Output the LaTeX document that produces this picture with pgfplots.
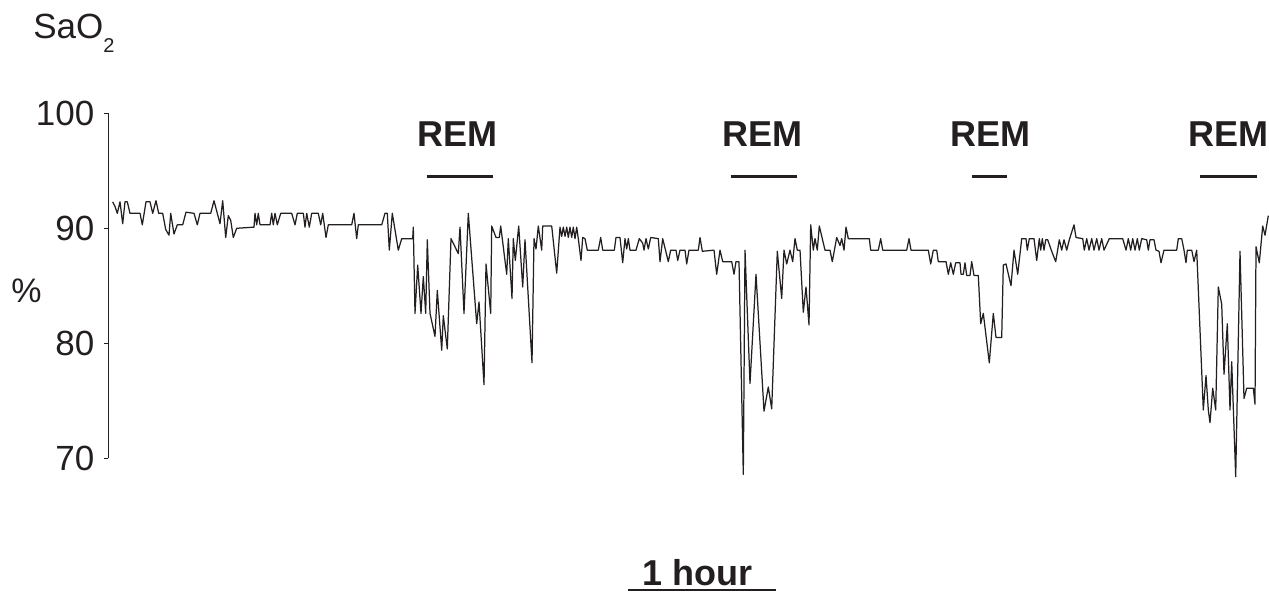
\documentclass[border=0pt]{standalone}
\usepackage{fontspec}
\setmainfont{Liberation Sans}
\usepackage{pgfplots}
\usepackage{pgfplotstable}
\pgfplotsset{compat=1.18}
\definecolor{ink}{HTML}{231F20}
\pgfplotstableread{
x y
112.7 92.3
115 91.9
117.3 91.3
120 92.3
122.7 90.4
125 92.3
127.3 92.3
130 91.3
140 91.3
142.3 90.3
146 92.3
150 92.3
152.7 91.3
156 92.4
158.7 91.3
162.7 91.3
165.7 89.9
169 89.4
170.7 91.3
174 89.5
177.3 90.3
182.7 90.3
186 91.4
194 91.3
197.3 90.3
200 91.3
210.7 91.3
214 92.4
217.3 91.3
220 90.4
222.7 92.4
225.7 89.2
228.3 91.1
230.7 90.7
233.3 89.2
236.7 90.0
254 90.1
255 91.3
256.7 90.3
258.3 91.3
260 90.3
270 90.3
271.7 91.3
273.3 90.3
275 91.3
277.3 90.3
280.7 91.3
291.7 91.3
295 90.3
297.3 91.3
303.3 91.3
305 90.1
306.7 91.3
309.3 90.1
311.7 91.3
318.3 91.3
320.7 90.3
322.7 91.3
326 89.2
328.3 90.3
351.7 90.3
354 91.3
356.7 89.1
358.3 90.3
381.7 90.3
385 91.3
387.3 91.3
389.3 88.1
392.3 91.3
398.3 88.1
401.7 89.1
412.7 89.1
413.3 90.1
415 82.6
417.7 86.8
421 82.6
423.3 85.8
425.7 82.6
427.3 89.0
430 82.6
435 80.6
437.3 84.6
441.7 79.4
443.3 82.4
447.3 79.5
451 89.1
458.3 87.8
460 90.1
464 82.6
468.3 91.3
476.7 81.7
479 83.6
484 76.4
486 86.9
490.7 82.6
491.7 90.2
496 89.2
499.3 89.2
500.7 90.2
506.7 86.0
508.3 89.1
512 83.9
513.3 89.1
515.3 87.2
518.7 90.2
522.7 84.9
525 89.0
532 78.3
534 89.1
536 88.2
538.3 90.2
541.7 88.1
542.7 90.2
551.7 90.2
556.7 86.1
560 90.1
561.7 89.3
563.3 90.1
565 89.3
566.7 90.1
568.3 89.2
570 90.1
571.7 89.2
573.3 90.1
575 89.1
576.7 90.1
578.3 89.1
581 87.2
582.7 89.2
585 89.1
587.3 88.1
598.3 88.1
600.7 89.2
602.7 88.1
614.3 88.1
616 89.2
620 89.2
622.7 87.0
625 89.1
626.7 88.2
628.3 89.1
630 88.1
636 88.1
639.3 89.1
642.7 88.7
644 88.1
646 89.1
648.3 88.2
650.7 89.2
658.3 89.1
660 87.1
662.7 89.1
668.3 87.1
670.7 88.1
676 88.1
677.7 87.2
680 88.1
685 88.1
686.7 86.9
689 88.1
698.3 88.1
700 89.2
702.3 88.0
714 88.1
716.7 86.0
720 88.1
722.7 87.1
731.7 87.1
734 86.0
736 87.1
739 87.1
743.3 68.6
745 88.1
750 76.5
756 86.0
764 74.1
768.3 76.2
771.7 74.3
777.3 88.0
781.7 83.9
784 88.1
786.7 86.9
790 88.1
792.7 87.1
795 89.1
797.3 88.1
800 88.1
803.3 82.7
806 84.9
809 81.6
810.7 90.3
813.3 88.1
815 89.1
817.3 88.1
819.3 90.2
825 88.1
830 88.1
832.3 87.1
836.7 89.2
840 88.5
841.7 89.1
844 88.1
846 90.1
848.3 89.1
869.3 89.1
870.7 88.1
878.3 88.1
880.7 89.1
882.7 88.1
906.7 88.1
909 89.1
911 88.1
928.3 88.1
930.7 86.9
933.3 88.1
936.7 88.1
938.3 87.1
946 87.1
948.3 86.0
950.7 87.0
953.3 86.0
955.7 87.0
960 87.0
961 86.0
963.3 86.0
965 87.0
966.7 85.9
970 85.9
971.7 87.1
974 85.9
978.3 85.9
980.7 81.7
983.3 82.6
989.3 78.3
993.3 82.6
996 80.5
1001.7 80.5
1003.3 86.8
1006 86.9
1011 85.0
1014 88.1
1017.7 86.0
1021.7 89.1
1026 89.1
1027.3 88.1
1029.3 89.1
1034 89.1
1036.7 87.2
1039.3 89.1
1040.7 88.1
1042.3 89.1
1044 88.1
1045.7 89.0
1047.7 89.0
1051.7 88.0
1055.7 87.1
1059.3 89.0
1061.7 88.1
1064 89.0
1066.7 88.1
1069.3 89.0
1074 90.3
1076 89.2
1082.7 89.1
1084.3 88.1
1086.7 89.1
1089 88.1
1091.7 89.1
1094 88.1
1096.7 89.1
1099 88.1
1101.7 89.1
1104 88.1
1109.3 89.1
1122.7 89.1
1126 88.1
1128.3 89.1
1130.7 88.1
1132.7 89.1
1135 88.1
1137.3 89.1
1139.3 88.1
1141.7 89.1
1146.7 89.0
1148.3 88.1
1150 89.0
1154 89.0
1156 88.1
1159 88.0
1161 87.0
1164 88.1
1176.7 88.1
1178.3 89.1
1181.7 89.1
1184 88.1
1186 87.0
1187.3 88.1
1191.7 88.1
1194 87.1
1196.7 88.1
1203.3 74.2
1206 77.2
1208.3 74.2
1210 73.1
1212.7 76.1
1215.7 74.2
1218.3 84.9
1221.7 83.4
1224 77.3
1227.3 81.7
1230 74.2
1231.7 78.4
1235.7 68.4
1240 88.0
1244 75.2
1246.7 76.1
1253.3 76.1
1255 74.7
1256 88.4
1259.3 87.0
1262.7 90.2
1265 89.4
1268.3 91.1
}\sao
\begin{document}
\begin{tikzpicture}
\useasboundingbox (0pt,0pt) rectangle (634.5pt,296pt);
\begin{axis}[
  at={(54.15pt,66.85pt)}, anchor=south west,
  scale only axis, width=580.35pt, height=172.5pt,
  xmin=108.3, xmax=1269, ymin=70, ymax=100,
  axis x line=none, axis y line*=left,
  y axis line style={-, ink, line width=0.6pt},
  ytick={70,80,90,100}, minor ytick={},
  tick align=outside, major tick length=2pt,
  ytick style={ink, line width=0.6pt},
  yticklabel style={font=\fontsize{17.5}{20}\selectfont, text=ink, xshift=-1.5pt},
  /pgf/number format/assume math mode=true,
  clip=false,
]
\addplot[ink, line width=0.62pt, line join=round] table[x=x,y=y] {\sao};
\node[anchor=base west, inner sep=0, text=ink, font=\fontsize{17.5}{20}\selectfont] at (axis cs:33,106.46) {SaO\raisebox{-7pt}{\fontsize{10}{12}\selectfont 2}};
\node[inner sep=0, text=ink, font=\fontsize{17}{20}\selectfont] at (axis cs:26.5,84.6) {\%};
\node[anchor=base, inner sep=0, text=ink, font=\fontsize{18}{21}\selectfont\bfseries] at (axis cs:457.5,97.07) {REM};
\node[anchor=base, inner sep=0, text=ink, font=\fontsize{18}{21}\selectfont\bfseries] at (axis cs:762.5,97.07) {REM};
\node[anchor=base, inner sep=0, text=ink, font=\fontsize{18}{21}\selectfont\bfseries] at (axis cs:990,97.07) {REM};
\node[anchor=base, inner sep=0, text=ink, font=\fontsize{18}{21}\selectfont\bfseries] at (axis cs:1228,97.07) {REM};
\draw[ink, line width=1.4pt] (axis cs:426.7,94.49) -- (axis cs:492.7,94.49);
\draw[ink, line width=1.4pt] (axis cs:730.6,94.49) -- (axis cs:797.2,94.49);
\draw[ink, line width=1.4pt] (axis cs:972,94.49) -- (axis cs:1006.7,94.49);
\draw[ink, line width=1.4pt] (axis cs:1200,94.49) -- (axis cs:1256.7,94.49);
\node[anchor=base, inner sep=0, text=ink, font=\fontsize{18}{21}\selectfont\bfseries] at (axis cs:697.5,58.98) {1 hour};
\draw[ink, line width=1pt] (axis cs:628,58.55) -- (axis cs:776,58.55);
\end{axis}
\end{tikzpicture}
\end{document}
